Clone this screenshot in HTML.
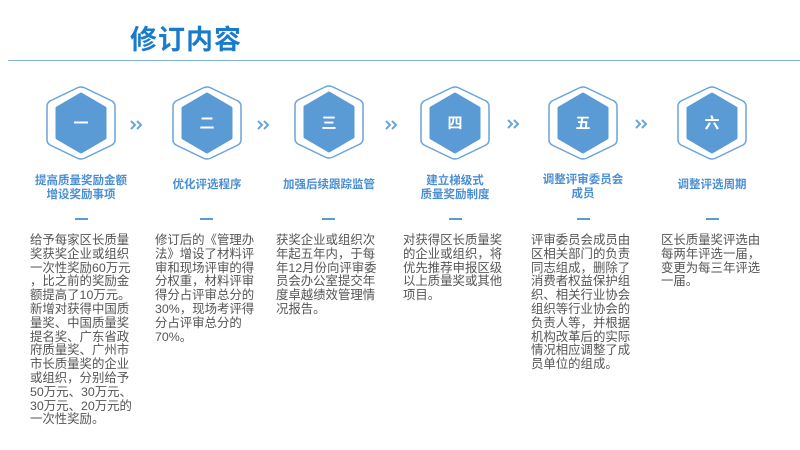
<!DOCTYPE html>
<html><head><meta charset="utf-8"><style>
body{margin:0;width:800px;height:450px;background:#fff;position:relative;overflow:hidden;font-family:"Liberation Sans","Noto Sans CJK SC",sans-serif}
.t{position:absolute;left:130px;top:18px;font-size:27px;font-weight:bold;color:#1a7bcc;letter-spacing:1px}
.hr{position:absolute;left:8px;top:60px;width:792px;height:1px;background:#7fb0de}
.ti{position:absolute;width:130px;text-align:center;color:#4b8fd2;font-weight:bold;font-size:11.5px;line-height:14px}
.d{position:absolute;top:218px;width:13px;height:2px;background:#5b9bd5}
.b{position:absolute;top:234px;font-size:12.4px;line-height:13.8px;color:#555;white-space:nowrap}
</style></head><body>
<div class="t">修订内容</div><div class="hr"></div>
<svg width="800" height="450" style="position:absolute;left:0;top:0">
<defs>
<g id="hx">
<path d="M0,-36 Q2,-36 4,-35 L31,-22 Q34,-20 34,-17 L34,17 Q34,20 31,22 L4,35 Q0,37 -4,35 L-31,22 Q-34,20 -34,17 L-34,-17 Q-34,-20 -31,-22 L-4,-35 Q-2,-36 0,-36Z" fill="#fff" stroke="#6aa4dc" stroke-width="1.5"/>
<path d="M0,-29 L24,-15 L24,15 L0,29 L-24,15 L-24,-15Z" fill="#5b9bd5" stroke="#5b9bd5" stroke-width="3" stroke-linejoin="round"/>
</g>
</defs>
<use href="#hx" x="81" y="123"/><use href="#hx" x="207" y="123"/><use href="#hx" x="329" y="122"/>
<use href="#hx" x="455" y="123"/><use href="#hx" x="583" y="123"/><use href="#hx" x="712" y="123"/>
<g fill="#fff" font-weight="bold" font-size="15" text-anchor="middle" font-family="Liberation Sans,Noto Sans CJK SC,sans-serif">
<text x="81" y="128">一</text><text x="207" y="128">二</text><text x="329" y="128">三</text>
<text x="455" y="128">四</text><text x="583" y="128">五</text><text x="712" y="128">六</text>
</g>
<g fill="none" stroke="#6aa4dc" stroke-width="2">
<path d="M131,121 l4,4 l-4,4 M137,121 l4,4 l-4,4"/>
<path d="M258,121 l4,4 l-4,4 M264,121 l4,4 l-4,4"/>
<path d="M386,121 l4,4 l-4,4 M392,121 l4,4 l-4,4"/>
<path d="M508,120 l4,4 l-4,4 M514,120 l4,4 l-4,4"/>
<path d="M636,120 l4,4 l-4,4 M642,120 l4,4 l-4,4"/>
</g>
</svg>
<div class="ti" style="left:16px;top:174px">提高质量奖励金额<br>增设奖励事项</div>
<div class="ti" style="left:142px;top:178px">优化评选程序</div>
<div class="ti" style="left:264px;top:178px">加强后续跟踪监管</div>
<div class="ti" style="left:390px;top:174px">建立梯级式<br>质量奖励制度</div>
<div class="ti" style="left:518px;top:173px">调整评审委员会<br>成员</div>
<div class="ti" style="left:647px;top:178px">调整评选周期</div>
<div class="d" style="left:75px"></div><div class="d" style="left:200px"></div><div class="d" style="left:322px"></div>
<div class="d" style="left:449px"></div><div class="d" style="left:577px"></div><div class="d" style="left:706px"></div>
<div class="b" style="left:30px">给予每家区长质量<br>奖获奖企业或组织<br>一次性奖励60万元<br>，比之前的奖励金<br>额提高了10万元。<br>新增对获得中国质<br>量奖、中国质量奖<br>提名奖、广东省政<br>府质量奖、广州市<br>市长质量奖的企业<br>或组织，分别给予<br>50万元、30万元、<br>30万元、20万元的<br>一次性奖励。</div>
<div class="b" style="left:155px">修订后的《管理办<br>法》增设了材料评<br>审和现场评审的得<br>分权重，材料评审<br>得分占评审总分的<br>30%，现场考评得<br>分占评审总分的<br>70%。</div>
<div class="b" style="left:276px">获奖企业或组织次<br>年起五年内，于每<br>年12月份向评审委<br>员会办公室提交年<br>度卓越绩效管理情<br>况报告。</div>
<div class="b" style="left:403px">对获得区长质量奖<br>的企业或组织，将<br>优先推荐申报区级<br>以上质量奖或其他<br>项目。</div>
<div class="b" style="left:531px">评审委员会成员由<br>区相关部门的负责<br>同志组成，删除了<br>消费者权益保护组<br>织、相关行业协会<br>组织等行业协会的<br>负责人等，并根据<br>机构改革后的实际<br>情况相应调整了成<br>员单位的组成。</div>
<div class="b" style="left:661px">区长质量奖评选由<br>每两年评选一届，<br>变更为每三年评选<br>一届。</div>
</body></html>
